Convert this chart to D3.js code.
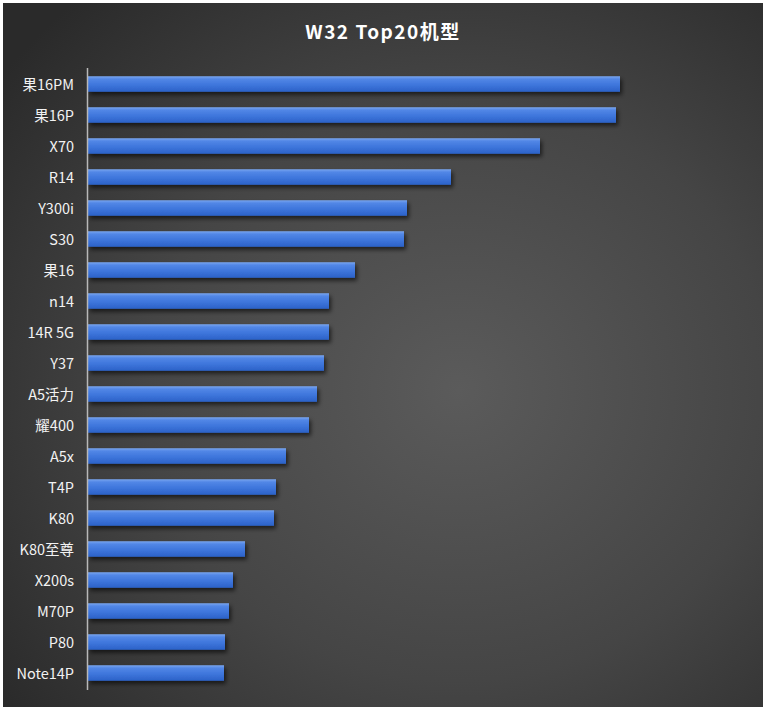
<!DOCTYPE html>
<html>
<head>
<meta charset="utf-8">
<script src="https://cdn.jsdelivr.net/npm/d3@7"></script>
<style>
  html, body { margin: 0; padding: 0; background: #ffffff; }
  svg { display: block; }
</style>
</head>
<body>
<div id="chart"></div>
<script>
// models, top to bottom
const models = ["果16PM", "果16P", "X70", "R14", "Y300i", "S30", "果16", "n14", "14R 5G", "Y37",
  "A5活力", "耀400", "A5x", "T4P", "K80", "K80至尊", "X200s", "M70P", "P80", "Note14P"];
// relative sales (no axis in the original)
const sales = [532, 528, 452, 363, 319, 316, 267, 241, 241, 236,
  229, 221, 198, 188, 186, 157, 145, 141, 137, 136];
const title = "W32 Top20机型";

const width = 766, height = 710;
const margin = { top: 68, right: 78, bottom: 22, left: 88 };

const data = models.map((m, i) => ({ model: m, value: sales[i] }));

const svg = d3.select("#chart")
  .append("svg")
  .attr("width", width)
  .attr("height", height);

const defs = svg.append("defs");

// background glow
const bg = defs.append("radialGradient")
  .attr("id", "bg")
  .attr("cx", "0.6").attr("cy", "0.55").attr("r", "0.75");
bg.append("stop").attr("offset", "0%").attr("stop-color", "#5b5b5b");
bg.append("stop").attr("offset", "55%").attr("stop-color", "#454545");
bg.append("stop").attr("offset", "100%").attr("stop-color", "#2a2a2a");

// bar shading
const barGrad = defs.append("linearGradient")
  .attr("id", "barGrad")
  .attr("x1", 0).attr("y1", 0).attr("x2", 0).attr("y2", 1);
barGrad.append("stop").attr("offset", "0%").attr("stop-color", "#7aa6f0");
barGrad.append("stop").attr("offset", "18%").attr("stop-color", "#5287e6");
barGrad.append("stop").attr("offset", "55%").attr("stop-color", "#3e76dc");
barGrad.append("stop").attr("offset", "100%").attr("stop-color", "#2c62c8");

const shadow = defs.append("filter")
  .attr("id", "shadow")
  .attr("x", "-5%").attr("y", "-30%").attr("width", "115%").attr("height", "200%");
shadow.append("feDropShadow")
  .attr("dx", 2).attr("dy", 3).attr("stdDeviation", 2.2)
  .attr("flood-color", "#000").attr("flood-opacity", 0.6);

svg.append("rect")
  .attr("x", 3).attr("y", 3)
  .attr("width", width - 6).attr("height", height - 6)
  .attr("fill", "url(#bg)");

svg.append("text")
  .attr("x", 383)
  .attr("y", 39)
  .attr("text-anchor", "middle")
  .attr("fill", "#ffffff")
  .style("font-family", "'Noto Sans CJK SC', 'Open Sans', sans-serif")
  .style("font-weight", "bold")
  .style("font-size", "19px")
  .style("letter-spacing", "1.5px")
  .text(title);

const x = d3.scaleLinear()
  .domain([0, 600])
  .range([margin.left, margin.left + 600]);

const y = d3.scaleBand()
  .domain(models)
  .range([margin.top + 0.5, height - margin.bottom + 0.5])
  .paddingInner(0.5)
  .paddingOuter(0.25);

// bars
svg.append("g")
  .selectAll("rect")
  .data(data)
  .enter()
  .append("rect")
  .attr("x", x(0))
  .attr("y", d => y(d.model))
  .attr("width", d => x(d.value) - x(0))
  .attr("height", y.bandwidth())
  .attr("fill", "url(#barGrad)")
  .attr("filter", "url(#shadow)");

// category axis
const yAxis = svg.append("g")
  .attr("transform", "translate(" + (margin.left - 1) + ",0)")
  .call(d3.axisLeft(y).tickSize(0).tickPadding(13));

yAxis.select(".domain")
  .attr("d", "M0.5," + margin.top + "V" + (height - margin.bottom + 2))
  .attr("stroke", "#b8b8b8")
  .attr("stroke-width", 1.5);

yAxis.selectAll("text")
  .attr("fill", "#f2f2f2")
  .attr("dy", "0.42em")
  .style("font-family", "'Noto Sans CJK SC', 'Noto Sans', sans-serif")
  .style("font-size", "14.5px");
</script>
</body>
</html>
